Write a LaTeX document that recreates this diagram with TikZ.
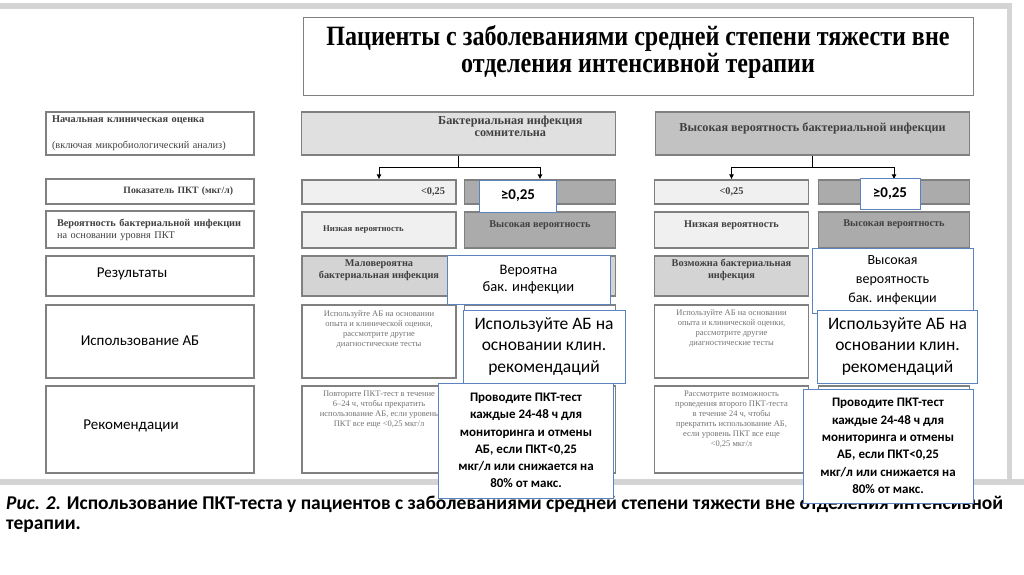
\documentclass[tikz,border=0pt]{standalone}
\usepackage{fontspec}
\setmainfont{Liberation Serif}
\newfontfamily\calfont{Carlito}
\newfontfamily\headfont[FakeStretch=0.86]{Liberation Serif}
\usetikzlibrary{arrows.meta}
\definecolor{noteblue}{HTML}{5B83C0}
\newcommand{\scantext}[2]{\parbox[c][#1][t]{150pt}{\centering #2}}

\begin{document}
\begin{tikzpicture}[x=1pt,y=-1pt,
    scan/.style={rectangle,draw=black!50,line width=1.1pt,fill=white,
        inner sep=2pt,align=center,text=black!75,
        font=\fontsize{10.3}{12}\selectfont\bfseries},
    bigscan/.style={scan,font=\fontsize{12.2}{13}\selectfont\bfseries},
    pale/.style={scan,fill=black!6},
    midgray/.style={scan,fill=black!17},
    darkgray/.style={scan,fill=black!33},
    faint/.style={scan,text=black!55,font=\fontsize{8.5}{10}\selectfont},
    lcol/.style={minimum width=208pt},
    colL/.style={minimum width=154pt},
    colR/.style={minimum width=151pt},
    colW/.style={minimum width=314pt},
    note/.style={rectangle,draw=noteblue,line width=0.7pt,fill=white,
        inner sep=2pt,align=center,font=\calfont\fontsize{14.5}{17}\selectfont},
    boldnote/.style={note,font=\calfont\bfseries\fontsize{13}{17.3}\selectfont},
    rowlabel/.style={font=\calfont\fontsize{15}{18}\selectfont},
    line/.style={draw=black,line width=1pt},
    arrow/.style={line,-{Latex[length=5pt,width=5pt]}}
]
\useasboundingbox (0,0) rectangle (1024,574);
% frame of the scanned page
\fill[black!17] (0,3) rectangle (1012,9);
\fill[black!17] (1007,3) rectangle (1012,485);
\fill[black!17] (0,479) rectangle (1024,485);
\node[scan,minimum width=670pt,minimum height=78pt,text=black,line width=0.9pt,
    font=\headfont\bfseries\fontsize{28}{27}\selectfont] (title) at (638,56)
    {Пациенты с заболеваниями средней степени тяжести вне\\
     отделения интенсивной терапии\\[-12pt]};
% row headings
\node[scan,lcol,minimum height=43pt,text width=196pt,align=left] (initial) at (150,133.5)
    {Начальная клиническая оценка\\[14pt]
     {\mdseries(включая микробиологический анализ)}};
\node[scan,lcol,minimum height=25pt,text width=166pt,align=right,font=\fontsize{9.7}{11}\selectfont\bfseries] (pctlevel) at (150,191.5)
    {Показатель ПКТ (мкг/л)};
\node[scan,lcol,minimum height=37pt,text width=186pt,align=left] (likelihood) at (150,229.5)
    {Вероятность бактериальной инфекции\\{\mdseries на основании уровня ПКТ}\\[2pt]};
\node[scan,lcol,minimum height=40pt] (results) at (150,276) {};
\node[scan,lcol,minimum height=73pt] (abuse) at (150,341.5) {};
\node[scan,lcol,minimum height=87pt] (advice) at (150,429.5) {};
\node[rowlabel] (resultslabel) at (132,274) {Результаты};
\node[rowlabel] (abuselabel) at (140,341) {Использование АБ};
\node[rowlabel] (advicelabel) at (131,426) {Рекомендации};
% doubtful infection
\node[bigscan,colW,minimum height=43pt,fill=black!12] (dhead) at (458.5,133.5)
    {\parbox[c][37pt][t]{300pt}{\hfill\begin{tabular}[t]{@{}c@{}}Бактериальная инфекция\\[-1pt]сомнительна\end{tabular}\hspace*{26pt}}};
\node[pale,colL,minimum height=24pt,text width=132pt,align=right] (dlow) at (379,192) {<0,25};
\node[darkgray,colR,minimum height=24pt] (dhigh) at (540,192) {};
\node[pale,colL,minimum height=36pt,text width=112pt,align=left,font=\fontsize{8.7}{10}\selectfont\bfseries] (dlowp) at (379,230) {Низкая вероятность\\[6pt]};
\node[darkgray,colR,minimum height=36pt] (dhighp) at (540,230) {Высокая вероятность\\[0pt]};
\node[midgray,colL,minimum height=40pt] (dout) at (379,276) {Маловероятна\\бактериальная инфекция\\[2pt]};
\node[midgray,colR,minimum height=40pt] (doutr) at (540,276) {};
\node[faint,colL,minimum height=73pt] (dab) at (379,341.5)
    {\scantext{62pt}{Используйте АБ на основании\\опыта и клинической оценки,\\
     рассмотрите другие\\диагностические тесты}};
\node[scan,colR,minimum height=73pt] (dabr) at (540,341.5) {};
\node[faint,colL,minimum height=87pt] (drec) at (379,429.5)
    {\scantext{78pt}{Повторите ПКТ-тест в течение\\6--24 ч, чтобы прекратить\\
     использование АБ, если уровень\\ПКТ все еще <0,25 мкг/л}};
\node[scan,colR,minimum height=87pt] (drecr) at (540,429.5) {};
% high probability
\node[bigscan,colW,minimum height=43pt,fill=black!24] (hhead) at (812.5,133.5)
    {Высокая вероятность бактериальной инфекции\\[0pt]};
\node[pale,colL,minimum height=24pt] (hlow) at (731.5,192) {<0,25};
\node[darkgray,colR,minimum height=24pt] (hhigh) at (894,192) {};
\node[pale,colL,minimum height=36pt] (hlowp) at (731.5,230) {Низкая вероятность\\[0pt]};
\node[darkgray,colR,minimum height=36pt] (hhighp) at (894,230) {Высокая вероятность\\[2pt]};
\node[midgray,colL,minimum height=40pt] (hout) at (731.5,276) {Возможна бактериальная\\инфекция\\[2pt]};
\node[midgray,colR,minimum height=40pt] (houtr) at (894,276) {};
\node[faint,colL,minimum height=73pt] (hab) at (731.5,341.5)
    {\scantext{64pt}{Используйте АБ на основании\\опыта и клинической оценки,\\
     рассмотрите другие\\диагностические тесты}};
\node[scan,colR,minimum height=73pt] (habr) at (894,341.5) {};
\node[faint,colL,minimum height=87pt] (hrec) at (731.5,429.5)
    {\scantext{78pt}{Рассмотрите возможность\\проведения второго ПКТ-теста\\
     в течение 24 ч, чтобы\\прекратить использование АБ,\\если уровень ПКТ все еще\\<0,25 мкг/л}};
\node[scan,colR,minimum height=87pt] (hrecr) at (894,429.5) {};
% branches
\draw[line] (dhead.south) -- ++(0,12) coordinate (dsplit);
\draw[arrow] (dsplit) -| (dlow.north);
\draw[arrow] (dsplit) -| (dhigh.north);
\draw[line] (hhead.south) -- ++(0,12) coordinate (hsplit);
\draw[arrow] (hsplit) -| (hlow.north);
\draw[arrow] (hsplit) -| (hhigh.north);
% caption
\node[anchor=north west,align=left,inner sep=0pt,
    font=\calfont\bfseries\fontsize{19.5}{20}\selectfont] (caption) at (6,496)
    {\textit{Рис. 2.} Использование ПКТ-теста у пациентов с заболеваниями средней степени тяжести вне отделения интенсивной\\
     терапии.};
% overlaid notes
\node[note,minimum width=77pt,minimum height=32pt,font=\calfont\bfseries\fontsize{15}{18}\selectfont] (dgeq) at (518,196) {≥0,25};
\node[note,minimum width=163pt,minimum height=49pt] (dlikely) at (528.5,280) {Вероятна\\бак. инфекции};
\node[note,minimum width=162pt,minimum height=73pt,font=\calfont\fontsize{17.5}{21.5}\selectfont] (duse) at (544,346.5)
    {Используйте АБ на\\основании клин.\\рекомендаций};
\node[boldnote,minimum width=175pt,minimum height=115pt] (dmonitor) at (526,440.5)
    {Проводите ПКТ-тест\\каждые 24-48 ч для\\мониторинга и отмены\\АБ, если ПКТ<0,25\\мкг/л или снижается на\\80\% от макс.};
\node[note,minimum width=60pt,minimum height=31pt,font=\calfont\bfseries\fontsize{15}{18}\selectfont] (hgeq) at (890,193.5) {≥0,25};
\node[note,minimum width=161pt,minimum height=65pt,font=\calfont\fontsize{14}{19}\selectfont] (hlikely) at (892.5,280.5)
    {Высокая\\вероятность\\бак. инфекции};
\node[note,minimum width=160pt,minimum height=73pt,font=\calfont\fontsize{17.5}{21.5}\selectfont] (huse) at (897.5,346.5)
    {Используйте АБ на\\основании клин.\\рекомендаций};
\node[boldnote,minimum width=170pt,minimum height=114pt] (hmonitor) at (888,446)
    {Проводите ПКТ-тест\\каждые 24-48 ч для\\мониторинга и отмены\\АБ, если ПКТ<0,25\\мкг/л или снижается на\\80\% от макс.};
\end{tikzpicture}
\end{document}
